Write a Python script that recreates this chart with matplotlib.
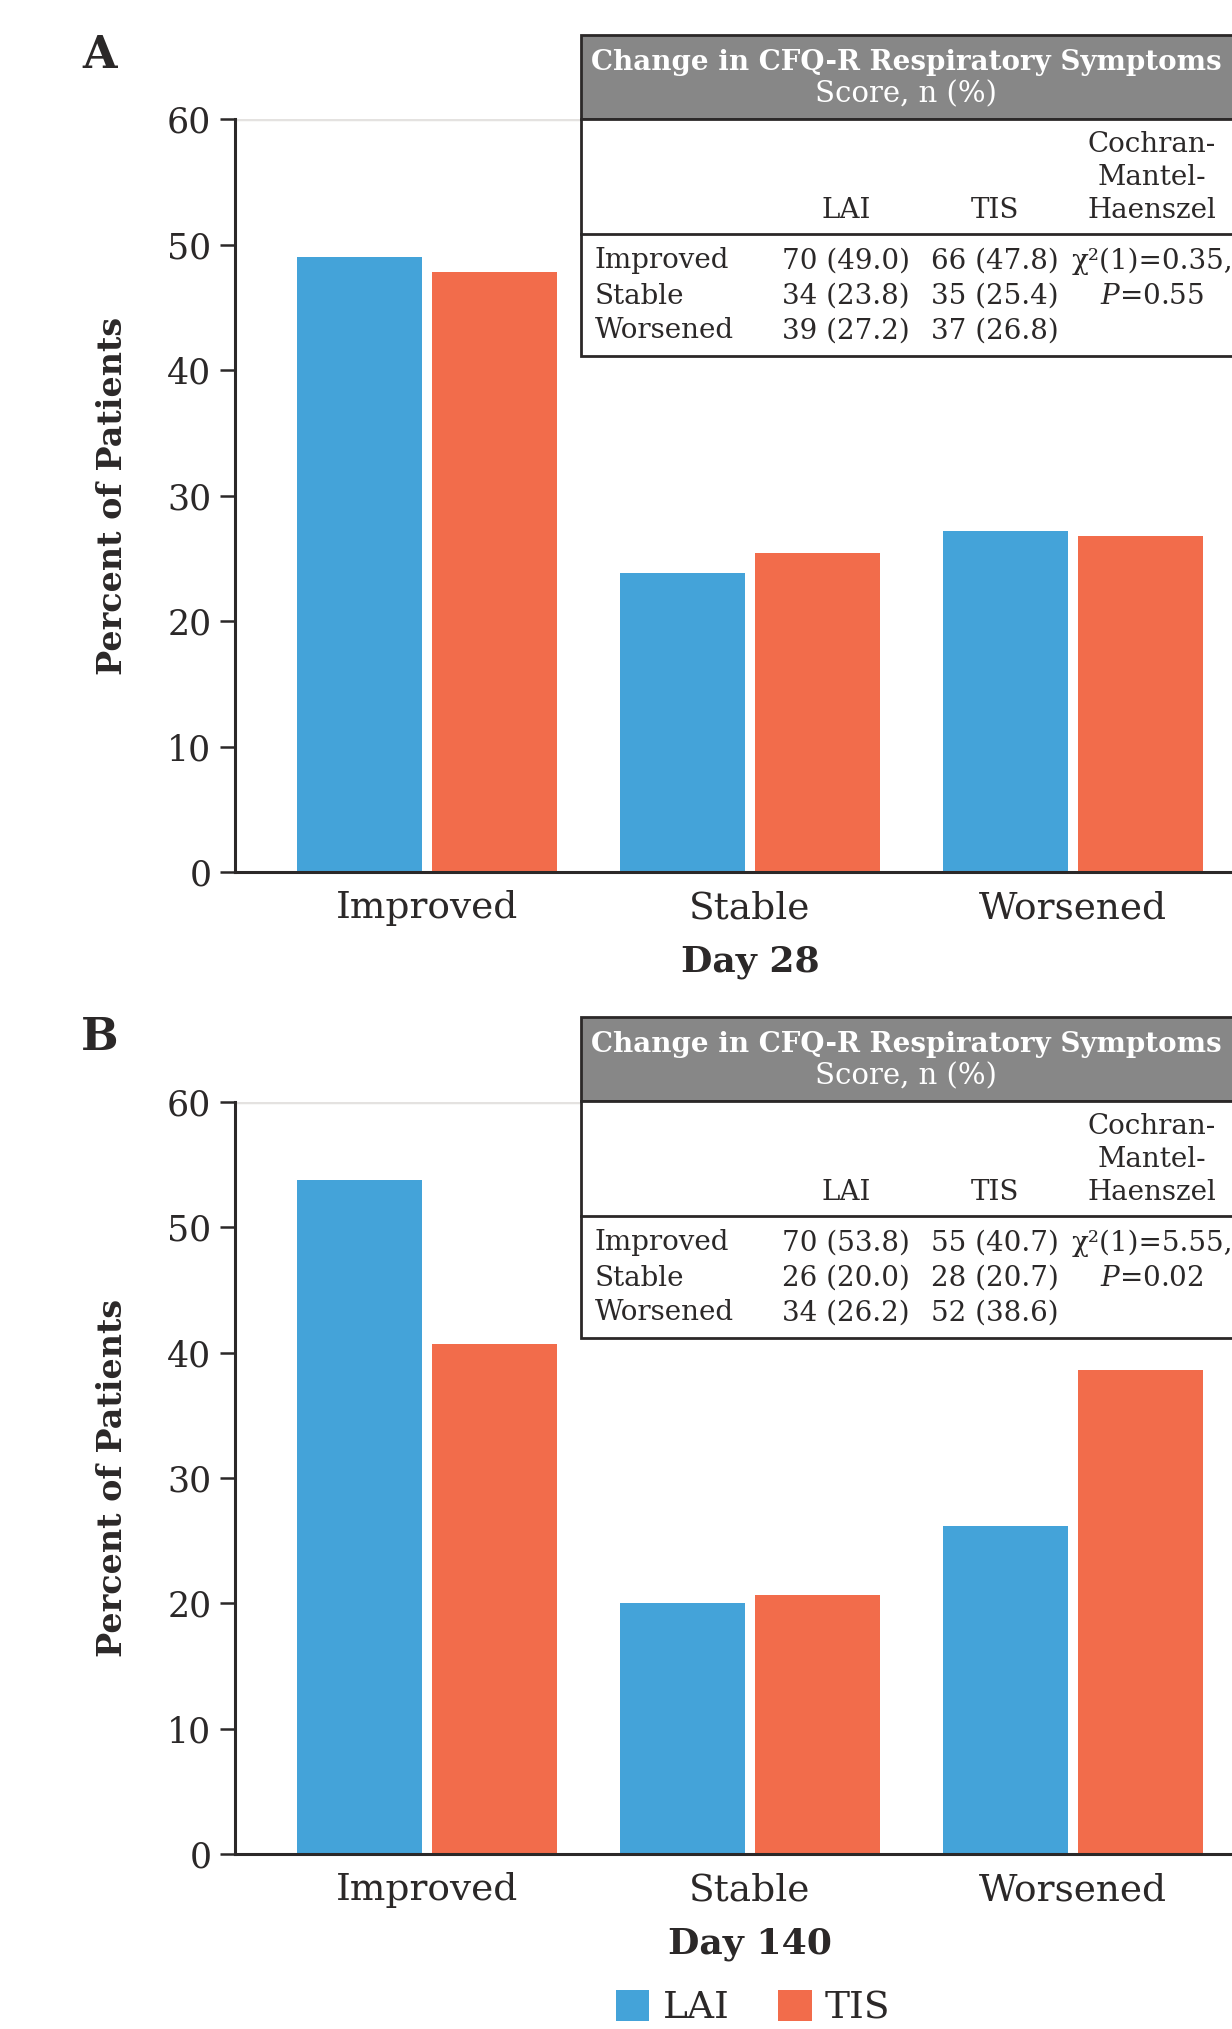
import matplotlib.pyplot as plt
import numpy as np
from matplotlib.patches import Rectangle

plt.rcParams['font.family'] = ['DejaVu Serif']
plt.rcParams['mathtext.fontset'] = 'dejavuserif'

# data
categories = ['Improved', 'Stable', 'Worsened']
series = ['LAI', 'TIS']
days = ['Day 28', 'Day 140']
letters = ['A', 'B']

lai_n_d28 = [70, 34, 39]
lai_pct_d28 = [49.0, 23.8, 27.2]
tis_n_d28 = [66, 35, 37]
tis_pct_d28 = [47.8, 25.4, 26.8]

lai_n_d140 = [70, 26, 34]
lai_pct_d140 = [53.8, 20.0, 26.2]
tis_n_d140 = [55, 28, 52]
tis_pct_d140 = [40.7, 20.7, 38.6]

cmh_chi2 = ['0.35', '5.55']
cmh_p = ['0.55', '0.02']

BLUE = '#44a3d9'
ORANGE = '#f26c4b'
DARK = '#2b2828'
HDR_GRAY = '#878787'

W, H = 1232, 2029
fig = plt.figure(figsize=(W / 100, H / 100), dpi=100)


def fx(x):
    return x / W


def fy(y):
    return 1 - y / H


def ftext(x, y, s, **kw):
    kw.setdefault('color', DARK)
    kw.setdefault('va', 'center')
    fig.text(fx(x), fy(y), s, **kw)


panels = [
    dict(lai=lai_pct_d28, tis=tis_pct_d28, lai_n=lai_n_d28, tis_n=tis_n_d28,
         top=119, bottom=872, table_top=35),
    dict(lai=lai_pct_d140, tis=tis_pct_d140, lai_n=lai_n_d140, tis_n=tis_n_d140,
         top=1102, bottom=1854, table_top=1017),
]

x = np.arange(len(categories))
width = 0.389
off = 0.209
left_px = 235

for i, p in enumerate(panels):
    ax = fig.add_axes([fx(left_px), fy(p['bottom']), 1 - fx(left_px),
                       (p['bottom'] - p['top']) / H])
    ax.bar(x - off, p['lai'], width, color=BLUE, label=series[0], zorder=2)
    ax.bar(x + off, p['tis'], width, color=ORANGE, label=series[1], zorder=2)
    ax.axhline(60, color='#e4e2e0', lw=2.5, zorder=0)
    ax.set_xlim(-0.595, 2.493)
    ax.set_ylim(0, 60)
    ax.set_yticks(range(0, 61, 10))
    ax.set_xticks(x)
    ax.set_xticklabels(categories)
    for s in ['top', 'right']:
        ax.spines[s].set_visible(False)
    for s in ['left', 'bottom']:
        ax.spines[s].set_color(DARK)
        ax.spines[s].set_linewidth(2.2)
    ax.tick_params(axis='y', length=11, width=1.8, pad=6, labelsize=25,
                   colors=DARK)
    ax.tick_params(axis='x', length=0, pad=13, labelsize=27, colors=DARK)
    ax.set_ylabel('Percent of Patients', fontsize=24, fontweight='bold',
                  color=DARK)
    ax.yaxis.set_label_coords((113 - left_px) / (W - left_px), 0.5)
    ax.yaxis.label.set_va('center')
    ax.set_xlabel(days[i], fontsize=26, fontweight='bold', color=DARK)
    ax.xaxis.set_label_coords((750 - left_px) / (W - left_px),
                              -90 / (p['bottom'] - p['top']))
    ax.xaxis.label.set_va('center')

    # panel letter
    ftext(100, p['table_top'] + 20, letters[i], fontsize=32, fontweight='bold',
          ha='center')

    # summary table
    t = p['table_top']
    tl, tr = 581, W + 10
    fig.add_artist(Rectangle((fx(tl), fy(t + 84)), fx(tr) - fx(tl), 84 / H,
                             transform=fig.transFigure, facecolor=HDR_GRAY,
                             edgecolor=DARK, lw=2, zorder=3))
    fig.add_artist(Rectangle((fx(tl), fy(t + 321)), fx(tr) - fx(tl), 237 / H,
                             transform=fig.transFigure, facecolor='white',
                             edgecolor=DARK, lw=2, zorder=3))
    fig.add_artist(plt.Line2D([fx(tl), fx(tr)], [fy(t + 199), fy(t + 199)],
                              transform=fig.transFigure, color=DARK, lw=2,
                              zorder=4))
    ftext(906, t + 27, 'Change in CFQ-R Respiratory Symptoms', color='white',
          fontsize=20, fontweight='bold', ha='center', zorder=5)
    ftext(906, t + 59, 'Score, n (%)', color='white', fontsize=21,
          ha='center', zorder=5)
    for j, line in enumerate(['Cochran-', 'Mantel-', 'Haenszel']):
        ftext(1152, t + 110 + 32.5 * j, line, fontsize=20, ha='center', zorder=5)
    ftext(846, t + 175, series[0], fontsize=20, ha='center', zorder=5)
    ftext(995, t + 175, series[1], fontsize=20, ha='center', zorder=5)
    for k, cat in enumerate(categories):
        ry = t + 226 + 35 * k
        ftext(595, ry, cat, fontsize=20, ha='left', zorder=5)
        ftext(846, ry, f"{p['lai_n'][k]} ({p['lai'][k]:.1f})", fontsize=20,
              ha='center', zorder=5)
        ftext(995, ry, f"{p['tis_n'][k]} ({p['tis'][k]:.1f})", fontsize=20,
              ha='center', zorder=5)
    ftext(1152, t + 226, f'χ²(1)={cmh_chi2[i]},', fontsize=20, ha='center',
          zorder=5)
    ftext(1152, t + 261, f'$P$={cmh_p[i]}', fontsize=20, ha='center', zorder=5)

handles, labels = ax.get_legend_handles_labels()
leg = fig.legend(handles, labels, loc='center', ncol=2,
                 bbox_to_anchor=(fx(753), fy(2008)), frameon=False,
                 fontsize=27, handlelength=0.9, handleheight=0.9,
                 handletextpad=0.35, columnspacing=1.3)
for txt in leg.get_texts():
    txt.set_color(DARK)

fig.savefig('out.png', dpi=100)
